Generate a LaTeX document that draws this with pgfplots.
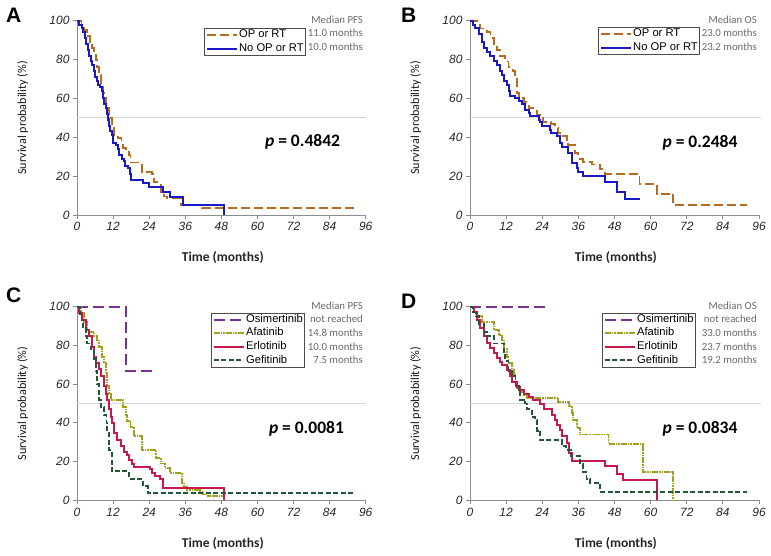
\documentclass[border=0pt]{standalone}
\usepackage{fontspec}
\setmainfont{Liberation Sans}
\newfontfamily\calib{Carlito}
\usepackage{pgfplots}
\pgfplotsset{compat=1.18}
\definecolor{cbrown}{RGB}{184,106,32}
\definecolor{cblue}{RGB}{25,25,200}
\definecolor{cpurple}{RGB}{120,50,150}
\definecolor{colive}{RGB}{160,160,25}
\definecolor{ccrimson}{RGB}{200,25,75}
\definecolor{cgreen}{RGB}{35,85,55}
\definecolor{axgray}{RGB}{140,140,140}
\definecolor{medgray}{RGB}{105,105,105}
\definecolor{refgray}{RGB}{215,215,215}
\tikzset{
  medtxt/.style={font=\calib\fontsize{10.8bp}{12bp}\selectfont, text=medgray, anchor=east, inner sep=0pt},
  ptxt/.style={font=\calib\bfseries\fontsize{17.5bp}{20bp}\selectfont, text=black, anchor=center},
  lett/.style={anchor=south west, inner sep=0pt, text depth=0pt, font=\bfseries\fontsize{21bp}{24bp}\selectfont},
  sbrown/.style={draw=cbrown, line width=1.9bp, dash pattern=on 9bp off 4bp},
  sblue/.style={draw=cblue, line width=2bp, solid},
  spurple/.style={draw=cpurple, line width=1.9bp, dash pattern=on 11bp off 5bp},
  solive/.style={draw=colive, line width=1.9bp, dash pattern=on 6bp off 1bp on 1.5bp off 1bp on 1.5bp off 1bp},
  scrimson/.style={draw=ccrimson, line width=2bp, solid},
  sgreen/.style={draw=cgreen, line width=1.9bp, dash pattern=on 5bp off 2.5bp},
}
\pgfplotsset{
  km/.style={
    scale only axis, clip=false,
    xmin=0, xmax=96, ymin=0, ymax=100,
    xtick={0,12,...,96}, ytick={0,20,...,100},
    axis x line*=bottom, axis y line*=left,
    axis line style={draw=axgray, line width=0.8bp, -},
    tick style={draw=axgray, line width=0.8bp},
    tick align=outside, major tick length=4bp,
    ticklabel style={font=\fontsize{12bp}{14bp}\selectfont\itshape, text=black!85},
    /pgf/number format/assume math mode=true,
    xlabel={Time (months)}, ylabel={Survival probability (\%)},
    xlabel style={font=\calib\bfseries\fontsize{13.5bp}{16bp}\selectfont, text=black!85, at={(axis description cs:0.505,-0.221)}, anchor=center},
    ylabel style={font=\calib\fontsize{12.2bp}{14bp}\selectfont, text=black!90, at={(axis description cs:-0.188,0.5)}, anchor=center},
    legend style={draw=black!70, line width=0.6bp, fill=white, inner xsep=1.5bp, inner ysep=0.8bp,
      font=\fontsize{11.2bp}{13bp}\selectfont,
      nodes={inner sep=0.5bp, text height=8bp, text depth=2.6bp}, row sep=2bp, column sep=1bp},
    legend cell align=left,
    legend image code/.code={\draw[#1] (0bp,0bp) -- (30bp,0bp);},
  },
}
\begin{document}
\begin{tikzpicture}
\useasboundingbox (0,0) rectangle (771bp,556bp);
\node[lett] at (6bp,533bp) {A};
\node[lett] at (401bp,533bp) {B};
\node[lett] at (6bp,253bp) {C};
\node[lett] at (401bp,247bp) {D};

% ---------- A ----------
\begin{axis}[km, at={(77bp,341bp)}, anchor=south west, width=288.7bp, height=194.3bp,
  legend style={at={(axis description cs:0.793,0.962)}, anchor=north east}]
\addplot[refgray, line width=1bp, forget plot] coordinates {(0,50) (96,50)};
\addplot[const plot, sbrown] coordinates {(0,100)(1.5,97)(2.3,95)(3.2,92)(4.3,89)(5.1,86)(5.7,84)(6.2,80)(6.8,76)(7.3,72)(7.9,67)(8.5,63)(9,60)(9.5,57)(10.1,55)(10.6,52)(11,50)(11.7,46)(12.3,41)(13.5,39.5)(14.8,37.5)(15.2,34.5)(16.2,32.5)(17.3,31)(17.8,27)(21.2,26)(21.7,22)(25,21)(25.6,17)(26.7,15.5)(27.8,12)(28.9,9.5)(30,8.5)(34.5,5)(41.5,3.5)(92.5,3.5)};
\addlegendentry{OP or RT}
\addplot[const plot, sblue] coordinates {(0,100)(0.8,98)(1.5,96)(2,94)(2.5,91)(3,88)(3.5,85)(4,82)(4.5,79)(5,77)(5.5,74)(6,71)(6.5,69)(7,67)(7.8,66)(8.3,64)(8.7,60)(9,57)(9.5,55)(10,52)(10.3,49)(10.6,46)(11,43)(11.5,41)(12,37)(13,36)(13.5,34)(14,31)(15,29)(15.5,28)(16,25)(17,24)(17.5,21)(18,18)(22,16.5)(24,14.5)(28.5,12)(31,9.5)(35.3,5)(48.8,0)};
\addlegendentry{No OP or RT}
\node[ptxt] at (axis cs:75,37.5) {\textit{p} = 0.4842};
\node[medtxt] at (axis description cs:0.991,1.007) {Median PFS};
\node[medtxt] at (axis description cs:0.991,0.937) {11.0 months};
\node[medtxt] at (axis description cs:0.991,0.865) {10.0 months};
\end{axis}

% ---------- B ----------
\begin{axis}[km, at={(470bp,341bp)}, anchor=south west, width=289bp, height=194.3bp,
  legend style={at={(axis description cs:0.796,0.966)}, anchor=north east}]
\addplot[refgray, line width=1bp, forget plot] coordinates {(0,50) (96.5,50)};
\addplot[const plot, sbrown] coordinates {(0,100)(2.5,98)(3.4,96)(5.6,94)(6.8,91)(7.9,88)(9,85)(10.1,82)(11.7,79)(12.8,76)(14.2,74)(14.9,70)(15.5,63)(16.2,60)(17.8,58)(19.5,55)(21.1,53.5)(22.3,51.5)(24.3,48)(27,47)(28.3,45)(29.3,42)(30.4,40.5)(32.1,38.5)(32.7,36)(34.9,32)(36,29)(37.6,27.5)(40.4,26)(43.2,23.5)(44.9,21)(56.3,16)(62,11)(67.5,5)(92,5)};
\addlegendentry{OP or RT}
\addplot[const plot, sblue] coordinates {(0,100)(1,98)(1.8,96)(2.9,93)(4,89)(4.5,86)(5.6,84)(6.8,82)(7.9,79)(9,77)(10.1,74)(10.6,72)(11.2,69)(12.3,67)(12.8,64)(13.4,61)(15.1,60)(16.2,58.5)(17.4,57)(18.4,54)(19.5,52.5)(20,51)(22.8,49)(23.4,48)(24,46)(26.5,44)(27,42)(28.8,40.5)(29.9,37)(30.5,35)(32.7,32)(34,27)(35.4,24)(36,22)(37.5,20)(44.9,17)(48.7,12)(51.5,8)(56.5,8)};
\addlegendentry{No OP or RT}
\node[ptxt] at (axis cs:76.4,37) {\textit{p} = 0.2484};
\node[medtxt] at (axis description cs:0.993,1.007) {Median OS};
\node[medtxt] at (axis description cs:0.993,0.937) {23.0 months};
\node[medtxt] at (axis description cs:0.993,0.865) {23.2 months};
\end{axis}

% ---------- C ----------
\begin{axis}[km, at={(77bp,55.7bp)}, anchor=south west, width=288.7bp, height=193.6bp,
  legend style={at={(axis description cs:0.79,0.969)}, anchor=north east}]
\addplot[refgray, line width=1bp, forget plot] coordinates {(0,50) (96,50)};
\addplot[const plot, spurple] coordinates {(0,100)(16.3,66.7)(26,66.7)};
\addlegendentry{Osimertinib}
\addplot[const plot, solive] coordinates {(0,100)(1.2,97)(2.3,92)(3.4,87)(5.6,85)(6.8,83)(7.3,79)(8.4,74)(9,71)(9.5,66)(10.1,59)(10.6,55)(11.2,52)(15.4,48)(16.2,44)(16.7,41)(17.8,38)(18.9,33)(21.5,26)(26.2,22)(27.8,19)(29.2,16.5)(30.9,14.3)(34.8,9)(35.5,7)(36.5,5.5)(40.9,4.5)(42,3)(43.5,2.3)(48.5,2.3)};
\addlegendentry{Afatinib}
\addplot[const plot, scrimson] coordinates {(0,100)(0.8,97)(1.5,93)(2.9,88)(4,85)(5.1,79)(5.6,74)(6.2,71)(7.3,68)(7.9,64)(9,59)(9.5,55)(10.1,52)(10.6,47)(11.2,43)(11.7,40)(12.3,35)(13.4,31)(14.5,28)(15.6,25)(16.7,23.5)(17.3,21)(18.4,19)(19,17.4)(24.3,16)(24.8,14.3)(25.9,12.5)(27.6,11)(28.7,6.5)(48.8,0)};
\addlegendentry{Erlotinib}
\addplot[const plot, sgreen] coordinates {(0,100)(1,96)(1.5,93)(2.1,89)(2.9,85)(3.4,81)(4.5,78)(5.6,73)(6.2,67)(6.8,60)(7.3,52)(7.9,48)(9,44)(9.8,40)(10.1,35)(10.6,26)(11.5,15)(17.2,11)(22,7.5)(23.5,3.7)(92.5,3.7)};
\addlegendentry{Gefitinib}
\node[ptxt] at (axis cs:76.3,37) {\textit{p} = 0.0081};
\node[medtxt] at (axis description cs:0.991,1.004) {Median PFS};
\node[medtxt] at (axis description cs:0.991,0.935) {not reached};
\node[medtxt] at (axis description cs:0.991,0.866) {14.8 months};
\node[medtxt] at (axis description cs:0.991,0.794) {10.0 months};
\node[medtxt] at (axis description cs:0.991,0.725) {7.5 months};
\end{axis}

% ---------- D ----------
\begin{axis}[km, at={(470bp,55.7bp)}, anchor=south west, width=289bp, height=193.6bp,
  legend style={at={(axis description cs:0.782,0.969)}, anchor=north east}]
\addplot[refgray, line width=1bp, forget plot] coordinates {(0,50) (96.5,50)};
\addplot[const plot, spurple] coordinates {(0,100)(26.5,100)};
\addlegendentry{Osimertinib}
\addplot[const plot, solive] coordinates {(0,100)(1.2,97)(2.3,95)(4,92.3)(7.9,88)(9.5,85.5)(10.6,83)(11.2,78)(12.3,74)(12.8,71)(13.9,67.5)(14.5,65)(15.1,60.5)(15.6,58)(16.7,56)(17.8,54.5)(19,53)(29.3,51)(33,48.5)(33.8,45)(34.3,41.5)(35.4,37.5)(36.5,34)(46,29)(57.6,14.5)(67.4,0)};
\addlegendentry{Afatinib}
\addplot[const plot, scrimson] coordinates {(0,100)(1.2,97.5)(2.3,93)(3.4,89)(4.5,85)(5.6,81)(6.8,78.5)(7.9,76)(9,73.5)(10.1,71.5)(10.6,70)(12.3,67.5)(13.3,64)(13.9,61)(15.6,58.7)(16.7,57)(17.8,55)(19.5,53.5)(21,52)(23.4,49.5)(24.5,47)(27.2,44)(28.3,41.5)(28.9,39)(30,36.5)(30.6,33)(32.2,29.5)(32.8,24.5)(33.9,20.5)(44.8,17.5)(48.7,13.5)(50.9,10.5)(62,0)};
\addlegendentry{Erlotinib}
\addplot[const plot, sgreen] coordinates {(0,100)(1,97)(2,95)(2.9,91)(4.5,87)(5.6,85)(7.9,81)(11.2,76)(11.7,72)(12.8,67)(13.9,64)(15.1,59)(16.2,57)(16.7,52)(18.4,50)(19,47)(20.6,43)(21.7,41.5)(22.3,36)(23.4,31)(30.6,28)(32,26)(33.5,23)(36.5,19)(37.6,14.5)(38.7,11)(40,9)(43.2,4.5)(92,4.5)};
\addlegendentry{Gefitinib}
\node[ptxt] at (axis cs:76.4,37) {\textit{p} = 0.0834};
\node[medtxt] at (axis description cs:0.993,1.004) {Median OS};
\node[medtxt] at (axis description cs:0.993,0.935) {not reached};
\node[medtxt] at (axis description cs:0.993,0.866) {33.0 months};
\node[medtxt] at (axis description cs:0.993,0.794) {23.7 months};
\node[medtxt] at (axis description cs:0.993,0.725) {19.2 months};
\end{axis}
\end{tikzpicture}
\end{document}
